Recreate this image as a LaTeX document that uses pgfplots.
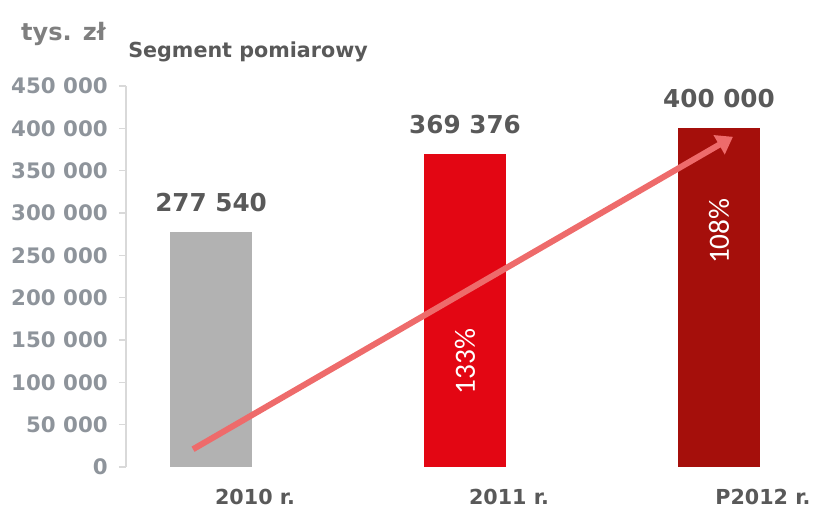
\documentclass[border=0pt]{standalone}
\usepackage{pgfplots}
\pgfplotsset{compat=1.18}
\usepackage{fontspec}
\setmainfont{DejaVu Sans}
\newfontfamily\pctfont{Carlito}
\usetikzlibrary{arrows.meta}
\definecolor{ticklab}{HTML}{8E949B}
\definecolor{darktxt}{HTML}{595959}
\definecolor{unitgray}{HTML}{7F7F7F}
\definecolor{axisgray}{HTML}{D9D9D9}
\definecolor{bargray}{HTML}{B2B2B2}
\definecolor{barred}{HTML}{E30613}
\definecolor{bardark}{HTML}{A50F0B}
\definecolor{arrowc}{HTML}{EE6B6B}
\begin{document}
\begin{tikzpicture}
\path[use as bounding box] (-94.5pt,-36.75pt) rectangle (516pt,350.25pt);
\begin{axis}[
  scale only axis,
  width=505.5pt, height=285.75pt,
  xmin=-0.335, xmax=2.319,
  ymin=0, ymax=450000,
  ybar, bar width=61.5pt, bar shift=0pt,
  axis x line*=bottom, axis y line*=left,
  x axis line style={draw=none},
  y axis line style={-, draw=axisgray, line width=1.1pt},
  xtick={0.173,1.173,2.173},
  xticklabels={2010 r., 2011 r., P2012 r.},
  x tick style={draw=none},
  xticklabel style={anchor=north, inner sep=0pt, yshift=-11.25pt, text=darktxt, font=\fontsize{15.5}{17}\selectfont\bfseries},
  ytick={0,50000,100000,150000,200000,250000,300000,350000,400000,450000},
  yticklabels={0,50 000,100 000,150 000,200 000,250 000,300 000,350 000,400 000,450 000},
  y tick style={draw=axisgray, line width=1.1pt},
  tick align=outside, major tick length=5.25pt,
  yticklabel style={anchor=east, inner sep=0pt, xshift=-8.25pt, text=ticklab, font=\fontsize{16}{18}\selectfont\bfseries},
  scaled y ticks=false,
  clip=false,
  point meta=explicit symbolic,
  nodes near coords,
  vallab/.style={every node near coord/.append style={anchor=south, inner sep=0pt, yshift=15pt, text=darktxt, font=\fontsize{18.5}{20}\selectfont\bfseries}},
]
\addplot[fill=bargray, draw=none, vallab] coordinates {(0,277540)[277 540]};
\addplot[fill=barred, draw=none, vallab] coordinates {(1,369376)[369 376]};
\addplot[fill=bardark, draw=none, vallab] coordinates {(2,400000)[400 000]};
\addplot[sharp plot, draw=arrowc, line width=4.5pt, -{Triangle[length=12pt,width=16pt]}, nodes near coords={}] coordinates {(-0.071,21000) (2.055,390000)};
\addplot[draw=none, fill=none, every node near coord/.append style={anchor=center, inner sep=0pt, rotate=90, text=white, font=\fontsize{22}{24}\selectfont\pctfont}] coordinates {(1,124600)[133\%] (2,278500)[108\%]};
\node[anchor=base west, inner sep=0pt, text=unitgray, font=\fontsize{18}{20}\selectfont\bfseries] at (axis description cs:-0.1558,1.1207) {tys. zł};
\node[anchor=base west, inner sep=0pt, text=darktxt, font=\fontsize{15.5}{17}\selectfont\bfseries] at (axis description cs:0.003,1.0735) {Segment pomiarowy};
\end{axis}
\end{tikzpicture}
\end{document}
